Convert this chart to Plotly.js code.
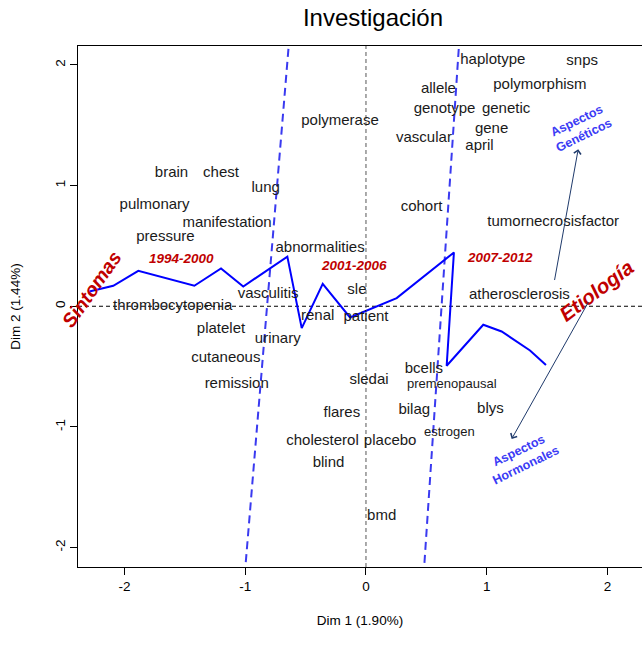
<!DOCTYPE html>
<html><head><meta charset="utf-8">
<script src="https://cdn.plot.ly/plotly-3.0.1.min.js"></script>
<style>html,body{margin:0;padding:0;background:#fff}</style>
</head><body><div id="chart" style="width:642px;height:645px"></div>
<script>
// ---- data ----
const words = ['haplotype','snps','polymorphism','allele','genotype','genetic','polymerase','vascular','gene','april',
  'brain','chest','lung','pulmonary','cohort','manifestation','tumornecrosisfactor','pressure','abnormalities','vasculitis',
  'sle','atherosclerosis','thrombocytopenia','renal','patient','platelet','urinary','cutaneous','bcells','sledai',
  'premenopausal','remission','flares','bilag','blys','estrogen','cholesterol','placebo','blind','bmd'];
const wordX = [1.05,1.79,1.44,0.60,0.65,1.16,-0.215,0.48,1.04,0.94,
  -1.61,-1.20,-0.83,-1.75,0.46,-1.15,1.55,-1.66,-0.38,-0.81,
  -0.075,1.27,-1.60,-0.40,0.0,-1.20,-0.73,-1.16,0.48,0.025,
  0.71,-1.07,-0.20,0.40,1.03,0.69,-0.36,0.20,-0.31,0.13];
const wordY = [2.04,2.03,1.83,1.80,1.63,1.63,1.53,1.39,1.47,1.33,
  1.105,1.10,0.98,0.84,0.82,0.69,0.70,0.57,0.48,0.10,
  0.13,0.09,0.00,-0.08,-0.09,-0.19,-0.27,-0.43,-0.52,-0.61,
  -0.65,-0.65,-0.89,-0.86,-0.85,-1.05,-1.12,-1.12,-1.30,-1.74];

const pathX = [-2.29,-2.092,-1.885,-1.421,-1.200,-1.016,-0.651,-0.532,-0.358,-0.132,0.254,0.728,0.668,0.971,1.123,1.358,1.490];
const pathY = [0.123,0.170,0.294,0.170,0.313,0.164,0.412,-0.181,0.186,-0.093,0.068,0.446,-0.493,-0.153,-0.209,-0.366,-0.487];

const sep1X = [-0.633,-0.998], sep1Y = [2.24,-2.157];
const sep2X = [0.775,0.482],   sep2Y = [2.24,-2.157];

const periods = ['1994-2000','2001-2006','2007-2012'];
const periodX = [-1.531,-0.099,1.109];
const periodY = [0.393,0.335,0.402];

const groups = ['Sintomas','Etiología'];
const groupX = [-2.27,1.905];
const groupY = [0.14,0.13];

const aspects = ['Aspectos<br>Genéticos','Aspectos<br>Hormonales'];
const aspectX = [1.772,1.291];
const aspectY = [1.478,-1.255];

const arrowTailX = [1.559,1.849], arrowTailY = [0.205,0.048];
const arrowHeadX = [1.757,1.206], arrowHeadY = [1.302,-1.10];

const xTicks = [-2,-1,0,1,2];
const yTicks = [-2,-1,0,1,2];

// ---- style ----
const FONT = 'Liberation Sans, Arial, Helvetica, sans-serif';
const smallWords = new Set(['premenopausal','estrogen']);
const RED = '#C00000', BLUE_TXT = '#3B3BF5';

const traces = [
  {x: sep1X, y: sep1Y, mode:'lines', line:{color:'#3A3AF0', width:2, dash:'8px,5px'}, hoverinfo:'skip'},
  {x: sep2X, y: sep2Y, mode:'lines', line:{color:'#3A3AF0', width:2, dash:'8px,5px'}, hoverinfo:'skip'},
  {x: pathX, y: pathY, mode:'lines', line:{color:'#0000FF', width:2}, hoverinfo:'skip'},
  {x: wordX, y: wordY, text: words, mode:'text', cliponaxis:false,
   textfont:{family:FONT, color:'#1a1a1a', size: words.map(w => smallWords.has(w) ? 13 : 15)}, hoverinfo:'skip'}
];

const annotations = [];
periods.forEach((p,i) => annotations.push({x:periodX[i], y:periodY[i], xref:'x', yref:'y', text:'<b><i>'+p+'</i></b>',
  showarrow:false, font:{family:FONT, size:13.5, color:RED}}));
const gAngles = [-55,-37];
const gSizes = [19.5,20.5];
groups.forEach((g,i) => annotations.push({x:groupX[i], y:groupY[i], xref:'x', yref:'y', text:'<b><i>'+g+'</i></b>',
  showarrow:false, textangle:gAngles[i], font:{family:FONT, size:gSizes[i], color:RED}}));
aspects.forEach((a,i) => annotations.push({x:aspectX[i], y:aspectY[i], xref:'x', yref:'y', text:'<b>'+a+'</b>',
  showarrow:false, textangle:-26, font:{family:FONT, size:12.5, color:BLUE_TXT}}));
arrowHeadX.forEach((hx,i) => annotations.push({x:hx, y:arrowHeadY[i], ax:arrowTailX[i], ay:arrowTailY[i],
  xref:'x', yref:'y', axref:'x', ayref:'y', text:'', showarrow:true, arrowhead:4, arrowsize:1.4, arrowwidth:1, arrowcolor:'#1F3A6B'}));

const layout = {
  width:642, height:645,
  margin:{l:78, r:0, t:46, b:77.5},
  paper_bgcolor:'#fff', plot_bgcolor:'#fff',
  showlegend:false,
  font:{family:FONT, color:'#000', size:13},
  title:{text:'Investigación', x:0.581, xanchor:'center', y:1-18/645, yanchor:'middle', xref:'container', yref:'container',
    font:{family:FONT, size:24, color:'#000'}},
  xaxis:{range:[-2.384,2.285], tickvals:xTicks, ticktext:xTicks.map(String), showgrid:false, zeroline:false,
    showline:true, mirror:true, linecolor:'#000', linewidth:1, ticks:'outside', ticklen:7, tickcolor:'#000',
    tickfont:{family:FONT, size:13.5}, title:{text:'Dim 1 (1.90%)', standoff:22, font:{family:FONT, size:13.5}}, automargin:false},
  yaxis:{range:[-2.161,2.157], tickvals:yTicks, ticktext:yTicks.map(String), tickangle:-90, showgrid:false, zeroline:false,
    showline:true, mirror:false, linecolor:'#000', linewidth:1, ticks:'outside', ticklen:7, tickcolor:'#000',
    tickfont:{family:FONT, size:13.5}, title:{text:'Dim 2 (1.44%)', standoff:28, font:{family:FONT, size:13.5}}, automargin:false},
  shapes:[
    {type:'line', xref:'paper', x0:0, x1:1, yref:'y', y0:0, y1:0, line:{color:'#000', width:1, dash:'4px,3px'}, layer:'below'},
    {type:'line', yref:'paper', y0:0, y1:1, xref:'x', x0:0, x1:0, line:{color:'#555', width:1, dash:'4px,3px'}, layer:'below'}
  ],
  annotations: annotations
};

Plotly.newPlot('chart', traces, layout, {displayModeBar:false, staticPlot:true});
</script></body></html>
